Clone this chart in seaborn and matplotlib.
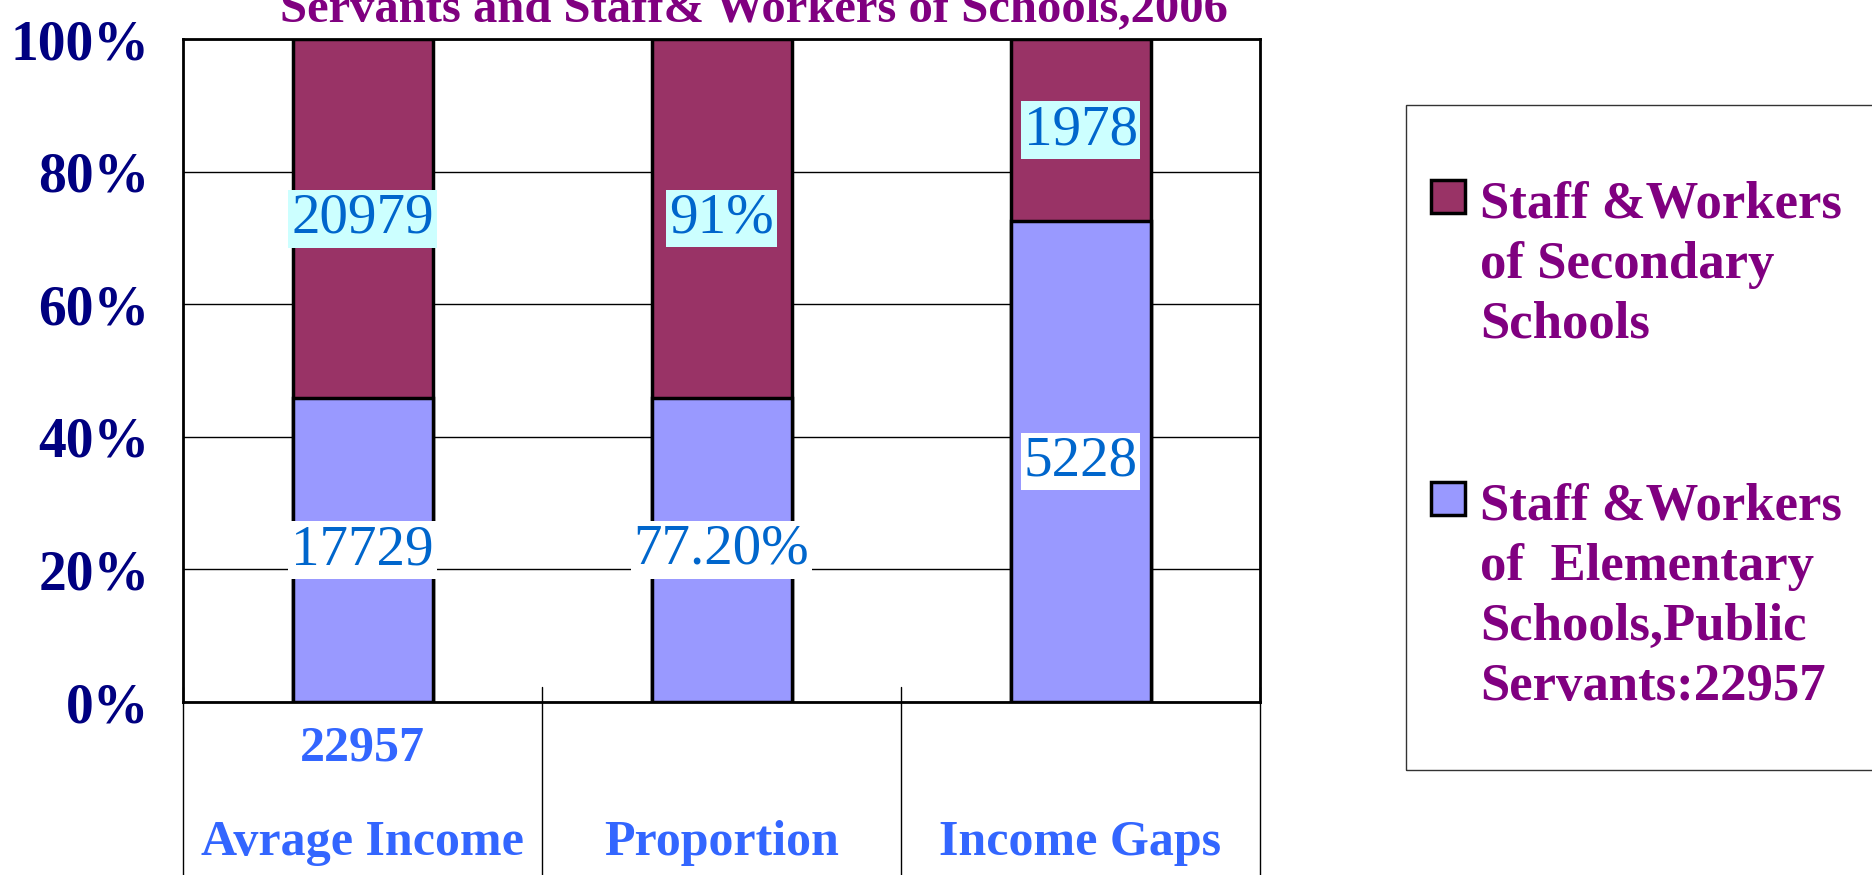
import matplotlib
matplotlib.use("Agg")
import matplotlib.pyplot as plt
import matplotlib.transforms as mtransforms
from matplotlib.patches import Rectangle
import numpy as np
import pandas as pd
import seaborn as sns

# values
categories = ["Avrage Income", "Proportion", "Income Gaps"]
lower_vals = [17729, 77.2, 5228]      # Elementary schools / public servants
upper_vals = [20979, 91, 1978]        # Secondary schools
lower_labels = ["17729", "77.20%", "5228"]
upper_labels = ["20979", "91%", "1978"]
y_ticks = [0, 20, 40, 60, 80, 100]
y_tick_labels = ["0%", "20%", "40%", "60%", "80%", "100%"]
legend_labels = [
    "Staff &Workers\nof Secondary\nSchools",
    "Staff &Workers\nof  Elementary\nSchools,Public\nServants:22957",
]
title = "Servants and Staff& Workers of Schools,2006"
base_note = "22957"

TOP_COLOR = "#993366"
LOW_COLOR = "#9999FF"
LABEL_COLOR = "#0066CC"
PURPLE = "#800080"

sns.set_style("white")
plt.rcParams["font.family"] = ["Liberation Serif", "DejaVu Serif"]

lower = np.array(lower_vals, dtype=float)
upper = np.array(upper_vals, dtype=float)
total = lower + upper
df = pd.DataFrame({
    "category": categories,
    "lower_pct": lower / total * 100,
    "total_pct": total / total * 100,
})
df["upper_mid"] = df["lower_pct"] + (df["total_pct"] - df["lower_pct"]) / 2
df["lower_mid"] = df["lower_pct"] / 2

fig = plt.figure(figsize=(18.72, 8.75), dpi=100)
ax = fig.add_axes([0.0978, 0.1977, 0.5753, 0.7577])

# stacked 100% bars: full height in top colour, lower part drawn over it
sns.barplot(data=df, x="category", y="total_pct", color=TOP_COLOR, saturation=1,
            width=0.39, edgecolor="black", linewidth=2.5, ax=ax)
sns.barplot(data=df, x="category", y="lower_pct", color=LOW_COLOR, saturation=1,
            width=0.39, edgecolor="black", linewidth=2.5, ax=ax)

ax.set_xlim(-0.5, 2.5)
ax.set_ylim(0, 100)
ax.set_xlabel("")
ax.set_ylabel("")
ax.set_yticks(y_ticks)
ax.set_yticklabels(y_tick_labels, fontsize=40, fontweight="bold", color="#000080")
ax.tick_params(axis="y", direction="in", length=8, width=1.5, pad=24)
ax.set_xticks([])
ax.yaxis.grid(True, color="black", linewidth=1)
ax.set_axisbelow(True)
for side in ["top", "right", "bottom", "left"]:
    ax.spines[side].set_visible(True)
    ax.spines[side].set_color("black")
    ax.spines[side].set_linewidth(2)

# segment labels
for i in range(len(categories)):
    ax.text(i, df["upper_mid"][i], upper_labels[i], ha="center", va="center",
            fontsize=41, color=LABEL_COLOR,
            bbox=dict(boxstyle="square,pad=0.05", fc="#CCFFFF", ec="none"))
    ax.text(i, df["lower_mid"][i], lower_labels[i], ha="center", va="center",
            fontsize=41, color=LABEL_COLOR,
            bbox=dict(boxstyle="square,pad=0.05", fc="white", ec="none"))

# category labels and separators under the axis
trans = mtransforms.blended_transform_factory(ax.transData, ax.transAxes)
for i, cat in enumerate(categories):
    ax.text(i, -0.212, cat, transform=trans, ha="center", va="center",
            fontsize=36, fontweight="bold", color="#3366FF", clip_on=False)
ax.text(0, -0.07, base_note, transform=trans, ha="center", va="center",
        fontsize=36, fontweight="bold", color="#3366FF", clip_on=False)
for xb in np.arange(-0.5, len(categories), 1.0):
    ax.plot([xb, xb], [0.022, -0.3], transform=trans, color="black",
            linewidth=1, clip_on=False)

# title, clipped at the top edge like the reference
fig.text(0.403, 1 - 22 / 875, title, ha="center", va="baseline", fontsize=35,
         fontweight="bold", color=PURPLE)

# legend drawn by hand so the frame runs off the right edge
fig.patches.append(Rectangle((1406 / 1872, 1 - 770 / 875), 0.3, (770 - 105) / 875,
                             transform=fig.transFigure, fill=False,
                             edgecolor="#333333", linewidth=1))
legend_colors = [TOP_COLOR, LOW_COLOR]
legend_rows = [217, 519]
for lab, col, yb in zip(legend_labels, legend_colors, legend_rows):
    fig.patches.append(Rectangle((1431 / 1872, 1 - (yb - 4) / 875), 34 / 1872, 33 / 875,
                                 transform=fig.transFigure, facecolor=col,
                                 edgecolor="black", linewidth=2.5))
    fig.text(1480 / 1872, 1 - (yb - 36) / 875, lab, ha="left", va="top", fontsize=38,
             fontweight="bold", color=PURPLE, linespacing=1.32)

fig.savefig("out.png", dpi=100)
